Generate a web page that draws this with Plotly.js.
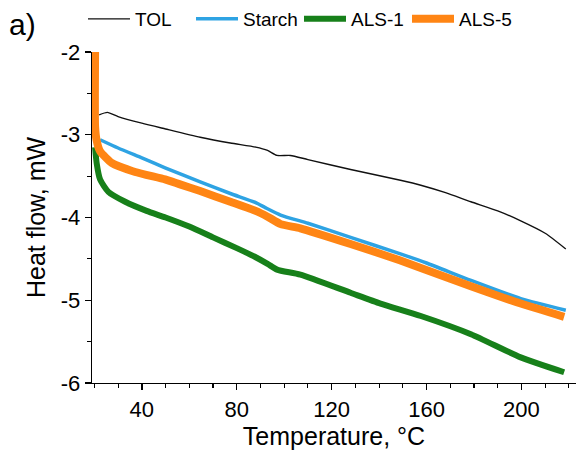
<!DOCTYPE html>
<html>
<head>
<meta charset="utf-8">
<script src="https://cdn.plot.ly/plotly-3.0.1.min.js"></script>
<style>html,body{margin:0;padding:0;background:#fff;}#chart{width:576px;height:450px;}</style>
</head>
<body>
<div id="chart"></div>
<script>
// Temperature (°C) and heat flow (mW)
const tolT = [22.0, 25.5, 30, 40, 50, 64.6, 77.3, 88, 93, 97, 102.6, 110, 128, 149, 157.6, 168, 178.7, 190, 199.7, 210, 218.7];
const tolY = [-2.76, -2.73, -2.78, -2.86, -2.93, -3.03, -3.10, -3.15, -3.19, -3.25, -3.25, -3.30, -3.42, -3.55, -3.61, -3.70, -3.81, -3.92, -4.04, -4.19, -4.38];

const starchT = [22.4, 30, 40, 49.8, 64.6, 77.3, 88, 92, 98.5, 110, 128, 149, 160, 178.7, 199.7, 218.7];
const starchY = [-3.06, -3.16, -3.28, -3.40, -3.57, -3.71, -3.82, -3.88, -3.97, -4.07, -4.24, -4.44, -4.55, -4.76, -4.98, -5.12];

const als1T = [20.3, 21.0, 22.4, 25.9, 33, 42, 50, 60, 70, 80, 88, 93, 97, 106.8, 128, 140.6, 157.6, 178.7, 199.7, 218];
const als1Y = [-3.15, -3.35, -3.54, -3.69, -3.81, -3.92, -4.00, -4.11, -4.24, -4.37, -4.48, -4.56, -4.63, -4.69, -4.91, -5.04, -5.19, -5.41, -5.69, -5.87];

const als5T = [20.3, 20.3, 20.9, 22.4, 27.3, 37.2, 49.8, 56.1, 64.6, 77.3, 88, 93, 98.5, 106.8, 128, 149, 157.6, 178.7, 199.7, 218];
const als5Y = [-2.0, -2.9, -3.06, -3.20, -3.34, -3.45, -3.54, -3.60, -3.68, -3.81, -3.92, -3.99, -4.08, -4.13, -4.32, -4.52, -4.61, -4.83, -5.04, -5.20];

const yTickVals = [-6, -5, -4, -3, -2];
const yTickText = ["-6", "-5", "-4", "-3", "-2"];
const xTickVals = [40, 80, 120, 160, 200];

const FONT = "Liberation Sans, Arial, sans-serif";

const traces = [
  {x: tolT, y: tolY, name: "TOL", mode: "lines", line: {color: "#111111", width: 1.4, shape: "spline", smoothing: 0.6}},
  {x: starchT, y: starchY, name: "Starch", mode: "lines", line: {color: "#2ea3e3", width: 3.5, shape: "spline", smoothing: 0.6}},
  {x: als1T, y: als1Y, name: "ALS-1", mode: "lines", line: {color: "#17801a", width: 6, shape: "spline", smoothing: 0.6}},
  {x: als5T, y: als5Y, name: "ALS-5", mode: "lines", line: {color: "#ff8514", width: 8, shape: "spline", smoothing: 0.5}}
];

const layout = {
  width: 576, height: 450,
  margin: {l: 92, r: 0, t: 43, b: 67, pad: 0},
  paper_bgcolor: "#fff", plot_bgcolor: "#fff",
  font: {family: FONT, color: "#000", size: 20},
  showlegend: true,
  legend: {
    orientation: "h", x: -0.0186, xanchor: "left", y: 1.10, yanchor: "middle",
    font: {family: FONT, size: 19, color: "#000"}, bgcolor: "rgba(0,0,0,0)",
    entrywidth: 51, entrywidthmode: "pixels", itemwidth: 42,
    traceorder: "normal"
  },
  xaxis: {
    range: [19, 223], showgrid: false, zeroline: false,
    showline: true, linecolor: "#000", linewidth: 1.4, mirror: false,
    ticks: "outside", ticklen: 6, tickwidth: 1.4, tickcolor: "#000",
    tickvals: xTickVals, tickfont: {family: FONT, size: 22, color: "#000"},
    minor: {dtick: 10, tick0: 0, ticks: "outside", ticklen: 3.5, tickwidth: 1.1, tickcolor: "#000", showgrid: false},
    title: {text: "Temperature, °C", font: {family: FONT, size: 25, color: "#000"}, standoff: 4}
  },
  yaxis: {
    range: [-6, -2], showgrid: false, zeroline: false,
    showline: true, linecolor: "#000", linewidth: 1.4,
    ticks: "outside", ticklen: 6, tickwidth: 1.4, tickcolor: "#000",
    tickvals: yTickVals, ticktext: yTickText, tickfont: {family: FONT, size: 22, color: "#000"},
    minor: {dtick: 0.5, tick0: 0, ticks: "outside", ticklen: 3.5, tickwidth: 1.1, tickcolor: "#000", showgrid: false},
    title: {text: "Heat flow, mW", font: {family: FONT, size: 25, color: "#000"}, standoff: 8}
  },
  annotations: [
    {text: "a)", xref: "paper", yref: "paper", x: -0.175, y: 1.14, xanchor: "left", yanchor: "top",
     showarrow: false, font: {family: FONT, size: 30, color: "#000"}}
  ]
};

Plotly.newPlot("chart", traces, layout, {displayModeBar: false, staticPlot: true});
</script>
</body>
</html>
